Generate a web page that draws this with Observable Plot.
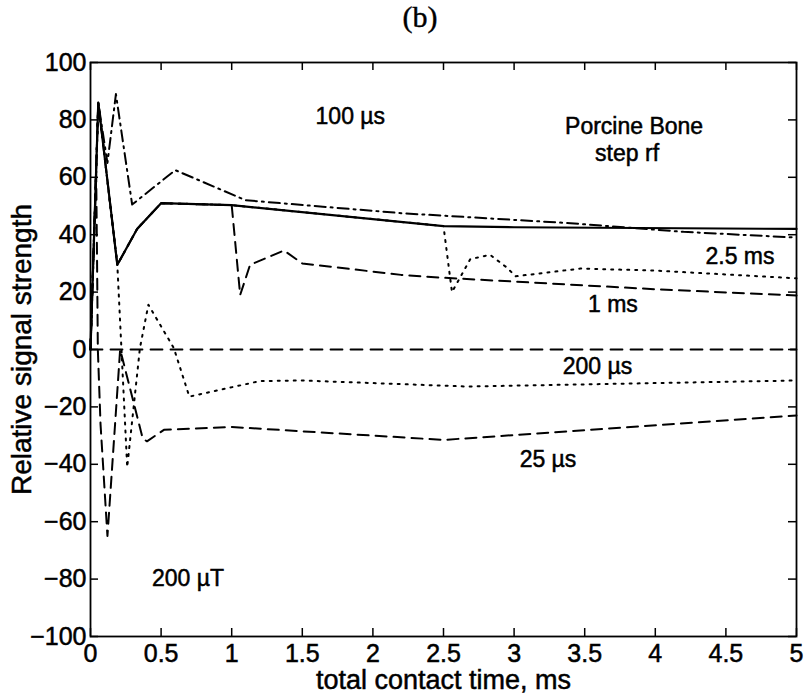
<!DOCTYPE html>
<html><head><meta charset="utf-8">
<script src="https://cdn.jsdelivr.net/npm/d3@7"></script>
<script src="https://cdn.jsdelivr.net/npm/@observablehq/plot@0.6"></script>
<style>
body{margin:0;background:#fff;}
#title{position:relative;height:38px;width:811px;font-family:"Liberation Serif","DejaVu Serif",serif;font-size:30px;color:#000;-webkit-text-stroke:0.4px #000;}
#title span{position:absolute;left:420px;top:0px;transform:translateX(-50%);}
#chart svg text{stroke:#000;stroke-width:0.5px;}
</style></head><body>
<div id="title"><span>(b)</span></div>
<div id="chart"></div>
<script>
// ---- data ----
const xTicks = [0, 0.5, 1, 1.5, 2, 2.5, 3, 3.5, 4, 4.5, 5];
const yTicks = [-100, -80, -60, -40, -20, 0, 20, 40, 60, 80, 100];
const xLabel = "total contact time, ms";
const yLabel = "Relative signal strength";

// continuous (solid)
const solidT = [0, 0.055, 0.19, 0.33, 0.5, 1.0, 2.5, 3.0, 5.0];
const solidV = [0, 86, 29.5, 42, 51, 50.3, 43, 42.6, 42];
// 100 µs (dash-dot)
const p100T = [0, 0.055, 0.12, 0.18, 0.295, 0.6, 1.1, 2.2, 3.4, 4.2, 5.0];
const p100V = [0, 86, 65, 89, 50.5, 62.5, 52, 47.5, 44, 41, 39];
// 1 ms (dashed)
const p1msT = [0, 0.055, 0.19, 0.33, 0.5, 1.0, 1.06, 1.13, 1.37, 1.5, 2.2, 2.5, 4.0, 5.0];
const p1msV = [0, 86, 29.5, 42, 51, 50.3, 19, 29.5, 34.5, 30, 26, 25, 21, 18.8];
// 2.5 ms (dotted)
const p25msT = [0, 0.055, 0.19, 0.33, 0.5, 1.0, 2.5, 2.56, 2.69, 2.83, 2.95, 3.01, 3.47, 4.0, 5.0];
const p25msV = [0, 86, 29.5, 42, 51, 50.3, 43, 20, 31.5, 33, 28.5, 25.5, 28.2, 27.5, 24.8];
// 200 µs (dotted)
const p200T = [0, 0.055, 0.19, 0.26, 0.35, 0.41, 0.59, 0.7, 1.2, 1.5, 2.67, 5.0];
const p200V = [0, 86, 29.5, -41, 0.5, 15.6, 0.5, -16.4, -11, -10.8, -12.9, -10.8];
// 25 µs (dashed)
const p25T = [0, 0.04, 0.047, 0.052, 0.071, 0.12, 0.21, 0.37, 0.4, 0.52, 1.0, 2.5, 5.0];
const p25V = [0, 62.5, 28, 0, -26, -65, 0, -31, -32, -28, -27, -31.5, -23];
// zero reference (dashed)
const zeroT = [0, 5];
const zeroV = [0, 0];

// annotations
const labelText = ["100 µs", "Porcine Bone", "step rf", "2.5 ms", "1 ms", "200 µs", "25 µs", "200 µT"];
const labelX = [1.84, 3.85, 3.8, 4.6, 3.7, 3.59, 3.24, 0.69];
const labelY = [81, 77.8, 68.4, 32.4, 15.7, -5.9, -38.3, -80];

// ---- build ----
const rows = (T, V) => T.map((t, i) => ({t, v: V[i]}));
const W = 811, Hsvg = 662, mL = 90, mR = 15, mT = 24, mB = 64;
const plotW = W - mL - mR, plotH = Hsvg - mT - mB;
const fmt = d => d < 0 ? "\u2212" + (-d) : String(d);
const font = "'Liberation Sans', Arial, Helvetica, sans-serif";
const lw = 2;

const chart = Plot.plot({
  width: W, height: Hsvg,
  marginLeft: mL, marginRight: mR, marginTop: mT, marginBottom: mB,
  style: {fontFamily: font, fontSize: "25px", color: "#000", background: "#fff"},
  x: {domain: [0, 5]},
  y: {domain: [-100, 100]},
  marks: [
    Plot.line(rows(zeroT, zeroV), {x: "t", y: "v", stroke: "#000", strokeWidth: 1.8, strokeDasharray: "12,8"}),
    Plot.line(rows(p25T, p25V), {x: "t", y: "v", stroke: "#000", strokeWidth: lw, strokeDasharray: "11,7"}),
    Plot.line(rows(p200T, p200V), {x: "t", y: "v", stroke: "#000", strokeWidth: 2, strokeDasharray: "2,6"}),
    Plot.line(rows(p25msT, p25msV), {x: "t", y: "v", stroke: "#000", strokeWidth: 2, strokeDasharray: "2,6"}),
    Plot.line(rows(p1msT, p1msV), {x: "t", y: "v", stroke: "#000", strokeWidth: lw, strokeDasharray: "11,7"}),
    Plot.line(rows(p100T, p100V), {x: "t", y: "v", stroke: "#000", strokeWidth: lw, strokeDasharray: "11,5,2,5"}),
    Plot.line(rows(solidT, solidV), {x: "t", y: "v", stroke: "#000", strokeWidth: 2.2}),
    Plot.frame({stroke: "#000", strokeWidth: 1.8}),
    Plot.ruleX(xTicks, {x: d => d, insetTop: plotH - 8, stroke: "#000", strokeWidth: 1.5}),
    Plot.ruleX(xTicks, {x: d => d, insetBottom: plotH - 8, stroke: "#000", strokeWidth: 1.5}),
    Plot.ruleY(yTicks, {y: d => d, insetRight: plotW - 8, stroke: "#000", strokeWidth: 1.5}),
    Plot.ruleY(yTicks, {y: d => d, insetLeft: plotW - 8, stroke: "#000", strokeWidth: 1.5}),
    Plot.axisX({ticks: xTicks, tickSize: 0, tickPadding: 8, tickFormat: fmt, fontSize: 25, label: null, fill: "#000"}),
    Plot.axisY({ticks: yTicks, tickSize: 0, tickPadding: 4, tickFormat: fmt, fontSize: 25, label: null, fill: "#000"}),
    Plot.text([xLabel], {frameAnchor: "bottom", dy: 52, text: d => d, fontSize: 27, fill: "#000"}),
    Plot.text([yLabel], {frameAnchor: "left", dx: -68, rotate: -90, textAnchor: "middle", text: d => d, fontSize: 28, fill: "#000"}),
    Plot.text(labelText.map((_, i) => i), {x: i => labelX[i], y: i => labelY[i], text: i => labelText[i], fontSize: 23, fill: "#000"})
  ]
});
document.getElementById("chart").appendChild(chart);
</script>
</body></html>
